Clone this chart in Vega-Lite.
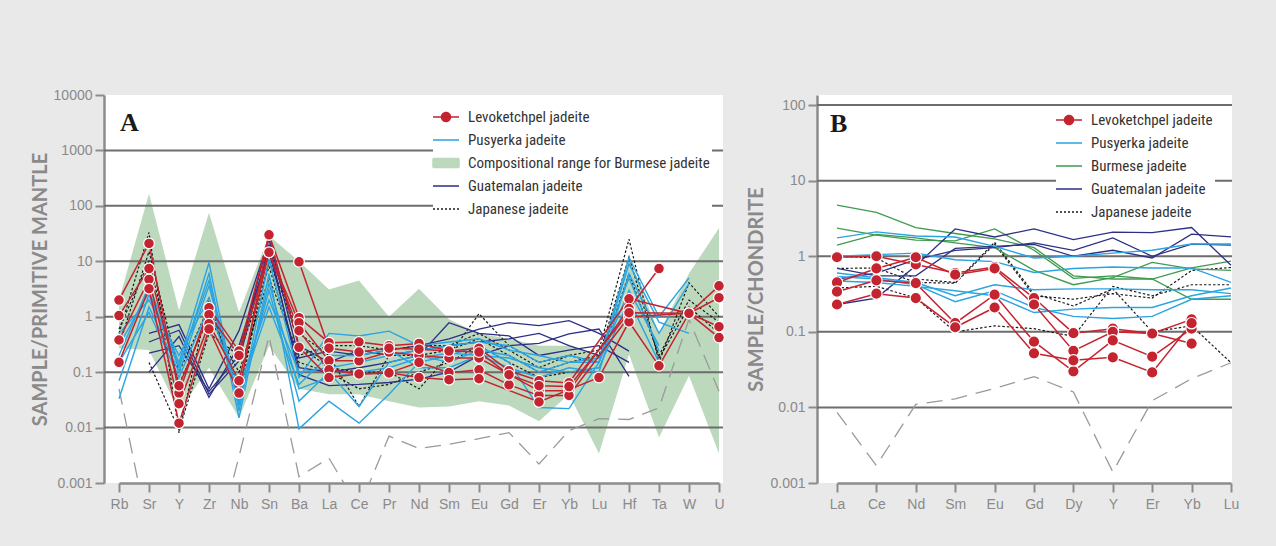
{
  "$schema": "https://vega.github.io/schema/vega-lite/v6.json",
  "background": "#e9e9e9",
  "padding": {"left": 30, "top": 88, "right": 40, "bottom": 40},
  "config": {
    "view": {"fill": "white", "stroke": null},
    "axis": {"domainColor": "#8c8c8c", "domainWidth": 2.5, "tickColor": "#8c8c8c", "tickWidth": 2, "tickSize": 9, "labelColor": "#8a8a8a", "labelFont": "Liberation Sans", "labelFontSize": 14, "labelPadding": 3, "titleColor": "#8a8a8a", "titleFont": "Lato", "titleFontSize": 20, "titleFontWeight": "bold", "grid": false, "titlePadding": 3}
  },
  "datasets": {
    "bandA": [
      {"e": "Rb", "lo": 0.27, "hi": 2.0}, {"e": "Sr", "lo": 0.25, "hi": 166}, {"e": "Y", "lo": 0.02, "hi": 1.3}, {"e": "Zr", "lo": 0.12, "hi": 75}, {"e": "Nb", "lo": 0.015, "hi": 1.2}, {"e": "Sn", "lo": 0.3, "hi": 29}, {"e": "Ba", "lo": 0.05, "hi": 10}, {"e": "La", "lo": 0.04, "hi": 3.1}, {"e": "Ce", "lo": 0.04, "hi": 4.5}, {"e": "Pr", "lo": 0.03, "hi": 1.0}, {"e": "Nd", "lo": 0.023, "hi": 3.2}, {"e": "Sm", "lo": 0.024, "hi": 0.9}, {"e": "Eu", "lo": 0.03, "hi": 0.5}, {"e": "Gd", "lo": 0.025, "hi": 0.4}, {"e": "Er", "lo": 0.013, "hi": 0.3}, {"e": "Yb", "lo": 0.04, "hi": 0.3}, {"e": "Lu", "lo": 0.0034, "hi": 0.2}, {"e": "Hf", "lo": 0.21, "hi": 12}, {"e": "Ta", "lo": 0.0066, "hi": 0.5}, {"e": "W", "lo": 0.086, "hi": 6}, {"e": "U", "lo": 0.0034, "hi": 40}
    ],
    "gridA": [{"v": 0.01}, {"v": 0.1}, {"v": 1}, {"v": 10}, {"v": 100}, {"v": 1000}],
    "gridB": [{"v": 0.01}, {"v": 0.1}, {"v": 1}, {"v": 10}, {"v": 100}],
    "legA": [{"g": "Levoketchpel jadeite"}, {"g": "Pusyerka jadeite"}, {"g": "Compositional range for Burmese jadeite"}, {"g": "Guatemalan jadeite"}, {"g": "Japanese jadeite"}],
    "legB": [{"g": "Levoketchpel jadeite"}, {"g": "Pusyerka jadeite"}, {"g": "Burmese jadeite"}, {"g": "Guatemalan jadeite"}, {"g": "Japanese jadeite"}],
    "a": [
      {"s": "L1", "g": "L", "e": "Rb", "v": 2.0}, {"s": "L1", "g": "L", "e": "Sr", "v": 21}, {"s": "L1", "g": "L", "e": "Y", "v": 0.042}, {"s": "L1", "g": "L", "e": "Zr", "v": 1.45}, {"s": "L1", "g": "L", "e": "Nb", "v": 0.24}, {"s": "L1", "g": "L", "e": "Sn", "v": 30}, {"s": "L1", "g": "L", "e": "Ba", "v": 0.96}, {"s": "L1", "g": "L", "e": "La", "v": 0.34}, {"s": "L1", "g": "L", "e": "Ce", "v": 0.35}, {"s": "L1", "g": "L", "e": "Pr", "v": 0.3}, {"s": "L1", "g": "L", "e": "Nd", "v": 0.33}, {"s": "L1", "g": "L", "e": "Sm", "v": 0.24}, {"s": "L1", "g": "L", "e": "Eu", "v": 0.27}, {"s": "L1", "g": "L", "e": "Gd", "v": 0.106}, {"s": "L1", "g": "L", "e": "Er", "v": 0.07}, {"s": "L1", "g": "L", "e": "Yb", "v": 0.064}, {"s": "L1", "g": "L", "e": "Hf", "v": 2.1}, {"s": "L1", "g": "L", "e": "W", "v": 1.15}, {"s": "L1", "g": "L", "e": "U", "v": 2.2},
      {"s": "L2", "g": "L", "e": "Rb", "v": 1.05}, {"s": "L2", "g": "L", "e": "Sr", "v": 7.4}, {"s": "L2", "g": "L", "e": "Y", "v": 0.057}, {"s": "L2", "g": "L", "e": "Zr", "v": 1.09}, {"s": "L2", "g": "L", "e": "Nb", "v": 0.2}, {"s": "L2", "g": "L", "e": "Sn", "v": 14.5}, {"s": "L2", "g": "L", "e": "Ba", "v": 0.78}, {"s": "L2", "g": "L", "e": "La", "v": 0.16}, {"s": "L2", "g": "L", "e": "Ce", "v": 0.16}, {"s": "L2", "g": "L", "e": "Pr", "v": 0.23}, {"s": "L2", "g": "L", "e": "Nd", "v": 0.2}, {"s": "L2", "g": "L", "e": "Sm", "v": 0.18}, {"s": "L2", "g": "L", "e": "Eu", "v": 0.18}, {"s": "L2", "g": "L", "e": "Er", "v": 0.046}, {"s": "L2", "g": "L", "e": "Yb", "v": 0.046}, {"s": "L2", "g": "L", "e": "Hf", "v": 1.4}, {"s": "L2", "g": "L", "e": "Ta", "v": 7.4},
      {"s": "L3", "g": "L", "e": "Rb", "v": 0.38}, {"s": "L3", "g": "L", "e": "Sr", "v": 4.7}, {"s": "L3", "g": "L", "e": "Y", "v": 0.027}, {"s": "L3", "g": "L", "e": "Zr", "v": 0.75}, {"s": "L3", "g": "L", "e": "Nb", "v": 0.07}, {"s": "L3", "g": "L", "e": "Sn", "v": 14.5}, {"s": "L3", "g": "L", "e": "Ba", "v": 0.56}, {"s": "L3", "g": "L", "e": "La", "v": 0.11}, {"s": "L3", "g": "L", "e": "Ce", "v": 0.093}, {"s": "L3", "g": "L", "e": "Pr", "v": 0.097}, {"s": "L3", "g": "L", "e": "Nd", "v": 0.15}, {"s": "L3", "g": "L", "e": "Sm", "v": 0.098}, {"s": "L3", "g": "L", "e": "Eu", "v": 0.11}, {"s": "L3", "g": "L", "e": "Gd", "v": 0.059}, {"s": "L3", "g": "L", "e": "Er", "v": 0.038}, {"s": "L3", "g": "L", "e": "Yb", "v": 0.038}, {"s": "L3", "g": "L", "e": "Hf", "v": 1.0}, {"s": "L3", "g": "L", "e": "W", "v": 1.15}, {"s": "L3", "g": "L", "e": "U", "v": 0.42},
      {"s": "L4", "g": "L", "e": "Rb", "v": 0.15}, {"s": "L4", "g": "L", "e": "Sr", "v": 3.2}, {"s": "L4", "g": "L", "e": "Y", "v": 0.012}, {"s": "L4", "g": "L", "e": "Zr", "v": 0.6}, {"s": "L4", "g": "L", "e": "Nb", "v": 0.042}, {"s": "L4", "g": "L", "e": "Sn", "v": 30}, {"s": "L4", "g": "L", "e": "Ba", "v": 0.28}, {"s": "L4", "g": "L", "e": "La", "v": 0.08}, {"s": "L4", "g": "L", "e": "Ce", "v": 0.093}, {"s": "L4", "g": "L", "e": "Pr", "v": 0.097}, {"s": "L4", "g": "L", "e": "Nd", "v": 0.08}, {"s": "L4", "g": "L", "e": "Sm", "v": 0.073}, {"s": "L4", "g": "L", "e": "Eu", "v": 0.076}, {"s": "L4", "g": "L", "e": "Er", "v": 0.029}, {"s": "L4", "g": "L", "e": "Lu", "v": 0.08}, {"s": "L4", "g": "L", "e": "Hf", "v": 0.81}, {"s": "L4", "g": "L", "e": "Ta", "v": 0.13}, {"s": "L4", "g": "L", "e": "W", "v": 1.15}, {"s": "L4", "g": "L", "e": "U", "v": 3.6},
      {"s": "L5", "g": "L", "e": "Ba", "v": 9.8}, {"s": "L5", "g": "L", "e": "La", "v": 0.27}, {"s": "L5", "g": "L", "e": "Ce", "v": 0.23}, {"s": "L5", "g": "L", "e": "Pr", "v": 0.27}, {"s": "L5", "g": "L", "e": "Nd", "v": 0.26}, {"s": "L5", "g": "L", "e": "Sm", "v": 0.24}, {"s": "L5", "g": "L", "e": "Eu", "v": 0.23}, {"s": "L5", "g": "L", "e": "Gd", "v": 0.09}, {"s": "L5", "g": "L", "e": "Er", "v": 0.057}, {"s": "L5", "g": "L", "e": "Yb", "v": 0.055}, {"s": "L5", "g": "L", "e": "Hf", "v": 1.18}, {"s": "L5", "g": "L", "e": "W", "v": 1.15}, {"s": "L5", "g": "L", "e": "U", "v": 0.66},
      {"s": "P1", "g": "P", "e": "Rb", "v": 0.2}, {"s": "P1", "g": "P", "e": "Sr", "v": 3.6}, {"s": "P1", "g": "P", "e": "Y", "v": 0.15}, {"s": "P1", "g": "P", "e": "Zr", "v": 9.5}, {"s": "P1", "g": "P", "e": "Nb", "v": 0.02}, {"s": "P1", "g": "P", "e": "Sn", "v": 11}, {"s": "P1", "g": "P", "e": "Ba", "v": 0.08}, {"s": "P1", "g": "P", "e": "La", "v": 0.5}, {"s": "P1", "g": "P", "e": "Ce", "v": 0.45}, {"s": "P1", "g": "P", "e": "Pr", "v": 0.55}, {"s": "P1", "g": "P", "e": "Nd", "v": 0.3}, {"s": "P1", "g": "P", "e": "Sm", "v": 0.35}, {"s": "P1", "g": "P", "e": "Eu", "v": 0.4}, {"s": "P1", "g": "P", "e": "Gd", "v": 0.25}, {"s": "P1", "g": "P", "e": "Er", "v": 0.2}, {"s": "P1", "g": "P", "e": "Yb", "v": 0.15}, {"s": "P1", "g": "P", "e": "Lu", "v": 0.15}, {"s": "P1", "g": "P", "e": "Hf", "v": 11.6}, {"s": "P1", "g": "P", "e": "Ta", "v": 1.0}, {"s": "P1", "g": "P", "e": "W", "v": 5},
      {"s": "P2", "g": "P", "e": "Rb", "v": 0.07}, {"s": "P2", "g": "P", "e": "Sr", "v": 2.5}, {"s": "P2", "g": "P", "e": "Y", "v": 0.12}, {"s": "P2", "g": "P", "e": "Zr", "v": 6}, {"s": "P2", "g": "P", "e": "Nb", "v": 0.015}, {"s": "P2", "g": "P", "e": "Sn", "v": 6}, {"s": "P2", "g": "P", "e": "Ba", "v": 0.0095}, {"s": "P2", "g": "P", "e": "La", "v": 0.03}, {"s": "P2", "g": "P", "e": "Ce", "v": 0.012}, {"s": "P2", "g": "P", "e": "Pr", "v": 0.04}, {"s": "P2", "g": "P", "e": "Nd", "v": 0.15}, {"s": "P2", "g": "P", "e": "Sm", "v": 0.2}, {"s": "P2", "g": "P", "e": "Eu", "v": 0.3}, {"s": "P2", "g": "P", "e": "Gd", "v": 0.15}, {"s": "P2", "g": "P", "e": "Er", "v": 0.023}, {"s": "P2", "g": "P", "e": "Yb", "v": 0.022}, {"s": "P2", "g": "P", "e": "Lu", "v": 0.15}, {"s": "P2", "g": "P", "e": "Hf", "v": 9}, {"s": "P2", "g": "P", "e": "Ta", "v": 0.8}, {"s": "P2", "g": "P", "e": "W", "v": 0.5},
      {"s": "P3", "g": "P", "e": "Rb", "v": 0.033}, {"s": "P3", "g": "P", "e": "Sr", "v": 1.5}, {"s": "P3", "g": "P", "e": "Y", "v": 0.1}, {"s": "P3", "g": "P", "e": "Zr", "v": 3.6}, {"s": "P3", "g": "P", "e": "Nb", "v": 0.03}, {"s": "P3", "g": "P", "e": "Sn", "v": 3}, {"s": "P3", "g": "P", "e": "Ba", "v": 0.03}, {"s": "P3", "g": "P", "e": "La", "v": 0.1}, {"s": "P3", "g": "P", "e": "Ce", "v": 0.024}, {"s": "P3", "g": "P", "e": "Pr", "v": 0.15}, {"s": "P3", "g": "P", "e": "Nd", "v": 0.2}, {"s": "P3", "g": "P", "e": "Sm", "v": 0.15}, {"s": "P3", "g": "P", "e": "Eu", "v": 0.25}, {"s": "P3", "g": "P", "e": "Gd", "v": 0.2}, {"s": "P3", "g": "P", "e": "Er", "v": 0.1}, {"s": "P3", "g": "P", "e": "Yb", "v": 0.15}, {"s": "P3", "g": "P", "e": "Lu", "v": 0.18}, {"s": "P3", "g": "P", "e": "Hf", "v": 5}, {"s": "P3", "g": "P", "e": "Ta", "v": 0.24},
      {"s": "P4", "g": "P", "e": "Rb", "v": 0.5}, {"s": "P4", "g": "P", "e": "Sr", "v": 2}, {"s": "P4", "g": "P", "e": "Y", "v": 0.2}, {"s": "P4", "g": "P", "e": "Zr", "v": 2.2}, {"s": "P4", "g": "P", "e": "Nb", "v": 0.05}, {"s": "P4", "g": "P", "e": "Sn", "v": 2}, {"s": "P4", "g": "P", "e": "Ba", "v": 0.1}, {"s": "P4", "g": "P", "e": "La", "v": 0.12}, {"s": "P4", "g": "P", "e": "Ce", "v": 0.15}, {"s": "P4", "g": "P", "e": "Pr", "v": 0.2}, {"s": "P4", "g": "P", "e": "Nd", "v": 0.25}, {"s": "P4", "g": "P", "e": "Sm", "v": 0.3}, {"s": "P4", "g": "P", "e": "Eu", "v": 0.35}, {"s": "P4", "g": "P", "e": "Gd", "v": 0.3}, {"s": "P4", "g": "P", "e": "Er", "v": 0.15}, {"s": "P4", "g": "P", "e": "Yb", "v": 0.2}, {"s": "P4", "g": "P", "e": "Lu", "v": 0.15}, {"s": "P4", "g": "P", "e": "Hf", "v": 3}, {"s": "P4", "g": "P", "e": "Ta", "v": 0.3},
      {"s": "P5", "g": "P", "e": "Rb", "v": 0.15}, {"s": "P5", "g": "P", "e": "Sr", "v": 1.2}, {"s": "P5", "g": "P", "e": "Y", "v": 0.08}, {"s": "P5", "g": "P", "e": "Zr", "v": 1.5}, {"s": "P5", "g": "P", "e": "Nb", "v": 0.04}, {"s": "P5", "g": "P", "e": "Sn", "v": 1.5}, {"s": "P5", "g": "P", "e": "Ba", "v": 0.06}, {"s": "P5", "g": "P", "e": "La", "v": 0.2}, {"s": "P5", "g": "P", "e": "Ce", "v": 0.2}, {"s": "P5", "g": "P", "e": "Pr", "v": 0.25}, {"s": "P5", "g": "P", "e": "Nd", "v": 0.12}, {"s": "P5", "g": "P", "e": "Sm", "v": 0.12}, {"s": "P5", "g": "P", "e": "Eu", "v": 0.2}, {"s": "P5", "g": "P", "e": "Gd", "v": 0.18}, {"s": "P5", "g": "P", "e": "Er", "v": 0.12}, {"s": "P5", "g": "P", "e": "Yb", "v": 0.1}, {"s": "P5", "g": "P", "e": "Lu", "v": 0.12}, {"s": "P5", "g": "P", "e": "Hf", "v": 2}, {"s": "P5", "g": "P", "e": "Ta", "v": 0.15},
      {"s": "P6", "g": "P", "e": "Rb", "v": 0.3}, {"s": "P6", "g": "P", "e": "Sr", "v": 2.8}, {"s": "P6", "g": "P", "e": "Y", "v": 0.13}, {"s": "P6", "g": "P", "e": "Zr", "v": 4.5}, {"s": "P6", "g": "P", "e": "Nb", "v": 0.025}, {"s": "P6", "g": "P", "e": "Sn", "v": 4}, {"s": "P6", "g": "P", "e": "Ba", "v": 0.05}, {"s": "P6", "g": "P", "e": "La", "v": 0.08}, {"s": "P6", "g": "P", "e": "Ce", "v": 0.1}, {"s": "P6", "g": "P", "e": "Pr", "v": 0.12}, {"s": "P6", "g": "P", "e": "Nd", "v": 0.18}, {"s": "P6", "g": "P", "e": "Sm", "v": 0.22}, {"s": "P6", "g": "P", "e": "Eu", "v": 0.2}, {"s": "P6", "g": "P", "e": "Gd", "v": 0.12}, {"s": "P6", "g": "P", "e": "Er", "v": 0.08}, {"s": "P6", "g": "P", "e": "Yb", "v": 0.12}, {"s": "P6", "g": "P", "e": "Lu", "v": 0.1}, {"s": "P6", "g": "P", "e": "Hf", "v": 6}, {"s": "P6", "g": "P", "e": "Ta", "v": 0.5}, {"s": "P6", "g": "P", "e": "W", "v": 4},
      {"s": "G1", "g": "G", "e": "Sr", "v": 0.5}, {"s": "G1", "g": "G", "e": "Y", "v": 0.72}, {"s": "G1", "g": "G", "e": "Zr", "v": 0.05}, {"s": "G1", "g": "G", "e": "Nb", "v": 0.56}, {"s": "G1", "g": "G", "e": "Sn", "v": 25}, {"s": "G1", "g": "G", "e": "Ba", "v": 0.18}, {"s": "G1", "g": "G", "e": "La", "v": 0.24}, {"s": "G1", "g": "G", "e": "Ce", "v": 0.2}, {"s": "G1", "g": "G", "e": "Pr", "v": 0.25}, {"s": "G1", "g": "G", "e": "Nd", "v": 0.3}, {"s": "G1", "g": "G", "e": "Sm", "v": 0.4}, {"s": "G1", "g": "G", "e": "Eu", "v": 0.6}, {"s": "G1", "g": "G", "e": "Gd", "v": 0.78}, {"s": "G1", "g": "G", "e": "Er", "v": 0.69}, {"s": "G1", "g": "G", "e": "Yb", "v": 0.85}, {"s": "G1", "g": "G", "e": "Lu", "v": 0.5}, {"s": "G1", "g": "G", "e": "Hf", "v": 0.24},
      {"s": "G2", "g": "G", "e": "Sr", "v": 0.35}, {"s": "G2", "g": "G", "e": "Y", "v": 0.57}, {"s": "G2", "g": "G", "e": "Zr", "v": 0.04}, {"s": "G2", "g": "G", "e": "Nb", "v": 0.16}, {"s": "G2", "g": "G", "e": "Sn", "v": 20}, {"s": "G2", "g": "G", "e": "Ba", "v": 0.09}, {"s": "G2", "g": "G", "e": "La", "v": 0.057}, {"s": "G2", "g": "G", "e": "Ce", "v": 0.06}, {"s": "G2", "g": "G", "e": "Pr", "v": 0.065}, {"s": "G2", "g": "G", "e": "Nd", "v": 0.075}, {"s": "G2", "g": "G", "e": "Sm", "v": 0.1}, {"s": "G2", "g": "G", "e": "Eu", "v": 0.2}, {"s": "G2", "g": "G", "e": "Gd", "v": 0.3}, {"s": "G2", "g": "G", "e": "Er", "v": 0.33}, {"s": "G2", "g": "G", "e": "Yb", "v": 0.49}, {"s": "G2", "g": "G", "e": "Lu", "v": 0.6}, {"s": "G2", "g": "G", "e": "Hf", "v": 0.084},
      {"s": "G3", "g": "G", "e": "Sr", "v": 0.1}, {"s": "G3", "g": "G", "e": "Y", "v": 0.44}, {"s": "G3", "g": "G", "e": "Zr", "v": 0.035}, {"s": "G3", "g": "G", "e": "Nb", "v": 0.3}, {"s": "G3", "g": "G", "e": "Sn", "v": 15}, {"s": "G3", "g": "G", "e": "Ba", "v": 0.12}, {"s": "G3", "g": "G", "e": "La", "v": 0.1}, {"s": "G3", "g": "G", "e": "Ce", "v": 0.12}, {"s": "G3", "g": "G", "e": "Pr", "v": 0.15}, {"s": "G3", "g": "G", "e": "Nd", "v": 0.2}, {"s": "G3", "g": "G", "e": "Sm", "v": 0.78}, {"s": "G3", "g": "G", "e": "Eu", "v": 0.5}, {"s": "G3", "g": "G", "e": "Gd", "v": 0.45}, {"s": "G3", "g": "G", "e": "Er", "v": 0.2}, {"s": "G3", "g": "G", "e": "Yb", "v": 0.25}, {"s": "G3", "g": "G", "e": "Lu", "v": 0.3}, {"s": "G3", "g": "G", "e": "Hf", "v": 0.15},
      {"s": "G4", "g": "G", "e": "Sr", "v": 0.22}, {"s": "G4", "g": "G", "e": "Y", "v": 0.3}, {"s": "G4", "g": "G", "e": "Zr", "v": 0.045}, {"s": "G4", "g": "G", "e": "Nb", "v": 0.2}, {"s": "G4", "g": "G", "e": "Sn", "v": 28}, {"s": "G4", "g": "G", "e": "Ba", "v": 0.3}, {"s": "G4", "g": "G", "e": "La", "v": 0.15}, {"s": "G4", "g": "G", "e": "Ce", "v": 0.25}, {"s": "G4", "g": "G", "e": "Pr", "v": 0.2}, {"s": "G4", "g": "G", "e": "Nd", "v": 0.25}, {"s": "G4", "g": "G", "e": "Sm", "v": 0.3}, {"s": "G4", "g": "G", "e": "Eu", "v": 0.35}, {"s": "G4", "g": "G", "e": "Gd", "v": 0.4}, {"s": "G4", "g": "G", "e": "Er", "v": 0.5}, {"s": "G4", "g": "G", "e": "Yb", "v": 0.3}, {"s": "G4", "g": "G", "e": "Lu", "v": 0.2},
      {"s": "J1", "g": "J", "e": "Rb", "v": 0.5}, {"s": "J1", "g": "J", "e": "Sr", "v": 33}, {"s": "J1", "g": "J", "e": "Y", "v": 0.008}, {"s": "J1", "g": "J", "e": "Zr", "v": 2.2}, {"s": "J1", "g": "J", "e": "Nb", "v": 0.03}, {"s": "J1", "g": "J", "e": "Sn", "v": 20}, {"s": "J1", "g": "J", "e": "Ba", "v": 0.3}, {"s": "J1", "g": "J", "e": "La", "v": 0.12}, {"s": "J1", "g": "J", "e": "Ce", "v": 0.1}, {"s": "J1", "g": "J", "e": "Pr", "v": 0.1}, {"s": "J1", "g": "J", "e": "Nd", "v": 0.05}, {"s": "J1", "g": "J", "e": "Sm", "v": 0.2}, {"s": "J1", "g": "J", "e": "Eu", "v": 1.13}, {"s": "J1", "g": "J", "e": "Gd", "v": 0.3}, {"s": "J1", "g": "J", "e": "Er", "v": 0.15}, {"s": "J1", "g": "J", "e": "Yb", "v": 0.2}, {"s": "J1", "g": "J", "e": "Lu", "v": 0.25}, {"s": "J1", "g": "J", "e": "Hf", "v": 25}, {"s": "J1", "g": "J", "e": "Ta", "v": 0.15}, {"s": "J1", "g": "J", "e": "W", "v": 4.1}, {"s": "J1", "g": "J", "e": "U", "v": 1.0},
      {"s": "J2", "g": "J", "e": "Rb", "v": 0.3}, {"s": "J2", "g": "J", "e": "Sr", "v": 15}, {"s": "J2", "g": "J", "e": "Y", "v": 0.1}, {"s": "J2", "g": "J", "e": "Zr", "v": 1.5}, {"s": "J2", "g": "J", "e": "Nb", "v": 0.05}, {"s": "J2", "g": "J", "e": "Sn", "v": 10}, {"s": "J2", "g": "J", "e": "Ba", "v": 0.5}, {"s": "J2", "g": "J", "e": "La", "v": 0.2}, {"s": "J2", "g": "J", "e": "Ce", "v": 0.024}, {"s": "J2", "g": "J", "e": "Pr", "v": 0.2}, {"s": "J2", "g": "J", "e": "Nd", "v": 0.2}, {"s": "J2", "g": "J", "e": "Sm", "v": 0.25}, {"s": "J2", "g": "J", "e": "Eu", "v": 0.4}, {"s": "J2", "g": "J", "e": "Gd", "v": 0.2}, {"s": "J2", "g": "J", "e": "Er", "v": 0.1}, {"s": "J2", "g": "J", "e": "Yb", "v": 0.15}, {"s": "J2", "g": "J", "e": "Lu", "v": 0.2}, {"s": "J2", "g": "J", "e": "Hf", "v": 12}, {"s": "J2", "g": "J", "e": "Ta", "v": 0.18}, {"s": "J2", "g": "J", "e": "W", "v": 1.5}, {"s": "J2", "g": "J", "e": "U", "v": 0.5},
      {"s": "J3", "g": "J", "e": "Rb", "v": 0.6}, {"s": "J3", "g": "J", "e": "Sr", "v": 10}, {"s": "J3", "g": "J", "e": "Y", "v": 0.06}, {"s": "J3", "g": "J", "e": "Zr", "v": 1.0}, {"s": "J3", "g": "J", "e": "Nb", "v": 0.1}, {"s": "J3", "g": "J", "e": "Sn", "v": 5}, {"s": "J3", "g": "J", "e": "Ba", "v": 0.2}, {"s": "J3", "g": "J", "e": "La", "v": 0.3}, {"s": "J3", "g": "J", "e": "Ce", "v": 0.3}, {"s": "J3", "g": "J", "e": "Pr", "v": 0.25}, {"s": "J3", "g": "J", "e": "Nd", "v": 0.3}, {"s": "J3", "g": "J", "e": "Sm", "v": 0.3}, {"s": "J3", "g": "J", "e": "Eu", "v": 0.5}, {"s": "J3", "g": "J", "e": "Gd", "v": 0.25}, {"s": "J3", "g": "J", "e": "Er", "v": 0.12}, {"s": "J3", "g": "J", "e": "Yb", "v": 0.2}, {"s": "J3", "g": "J", "e": "Lu", "v": 0.15}, {"s": "J3", "g": "J", "e": "Hf", "v": 6}, {"s": "J3", "g": "J", "e": "Ta", "v": 0.2}, {"s": "J3", "g": "J", "e": "W", "v": 2}, {"s": "J3", "g": "J", "e": "U", "v": 0.8},
      {"s": "J4", "g": "J", "e": "Sr", "v": 0.15}, {"s": "J4", "g": "J", "e": "Y", "v": 0.009}, {"s": "J4", "g": "J", "e": "Zr", "v": 0.5}, {"s": "J4", "g": "J", "e": "Nb", "v": 0.2}, {"s": "J4", "g": "J", "e": "Sn", "v": 8}, {"s": "J4", "g": "J", "e": "Ba", "v": 0.15}, {"s": "J4", "g": "J", "e": "La", "v": 0.1}, {"s": "J4", "g": "J", "e": "Ce", "v": 0.05}, {"s": "J4", "g": "J", "e": "Pr", "v": 0.06}, {"s": "J4", "g": "J", "e": "Nd", "v": 0.1}, {"s": "J4", "g": "J", "e": "Sm", "v": 0.15}, {"s": "J4", "g": "J", "e": "Eu", "v": 0.3}, {"s": "J4", "g": "J", "e": "Gd", "v": 0.15}, {"s": "J4", "g": "J", "e": "Er", "v": 0.08}, {"s": "J4", "g": "J", "e": "Yb", "v": 0.1}, {"s": "J4", "g": "J", "e": "Lu", "v": 0.12},
      {"s": "R", "g": "R", "e": "Rb", "v": 0.05}, {"s": "R", "g": "R", "e": "Sr", "v": 0.00012}, {"s": "R", "g": "R", "e": "Y", "v": 0.00001}, {"s": "R", "g": "R", "e": "Zr", "v": 0.000025}, {"s": "R", "g": "R", "e": "Nb", "v": 0.003}, {"s": "R", "g": "R", "e": "Sn", "v": 0.45}, {"s": "R", "g": "R", "e": "Ba", "v": 0.0013}, {"s": "R", "g": "R", "e": "La", "v": 0.0028}, {"s": "R", "g": "R", "e": "Ce", "v": 0.00035}, {"s": "R", "g": "R", "e": "Pr", "v": 0.007}, {"s": "R", "g": "R", "e": "Nd", "v": 0.0042}, {"s": "R", "g": "R", "e": "Sm", "v": 0.005}, {"s": "R", "g": "R", "e": "Eu", "v": 0.0063}, {"s": "R", "g": "R", "e": "Gd", "v": 0.0081}, {"s": "R", "g": "R", "e": "Er", "v": 0.0022}, {"s": "R", "g": "R", "e": "Yb", "v": 0.0088}, {"s": "R", "g": "R", "e": "Lu", "v": 0.0145}, {"s": "R", "g": "R", "e": "Hf", "v": 0.014}, {"s": "R", "g": "R", "e": "Ta", "v": 0.0227}, {"s": "R", "g": "R", "e": "W", "v": 0.9}, {"s": "R", "g": "R", "e": "U", "v": 0.045}
    ],
    "b": [
      {"s": "R1", "g": "L", "e": "La", "v": 0.97}, {"s": "R1", "g": "L", "e": "Ce", "v": 1.0}, {"s": "R1", "g": "L", "e": "Nd", "v": 0.78}, {"s": "R1", "g": "L", "e": "Sm", "v": 0.6}, {"s": "R1", "g": "L", "e": "Eu", "v": 0.72}, {"s": "R1", "g": "L", "e": "Gd", "v": 0.28}, {"s": "R1", "g": "L", "e": "Dy", "v": 0.096}, {"s": "R1", "g": "L", "e": "Y", "v": 0.11}, {"s": "R1", "g": "L", "e": "Er", "v": 0.095}, {"s": "R1", "g": "L", "e": "Yb", "v": 0.07},
      {"s": "R2", "g": "L", "e": "La", "v": 0.45}, {"s": "R2", "g": "L", "e": "Ce", "v": 0.69}, {"s": "R2", "g": "L", "e": "Nd", "v": 0.97}, {"s": "R2", "g": "L", "e": "Sm", "v": 0.57}, {"s": "R2", "g": "L", "e": "Eu", "v": 0.69}, {"s": "R2", "g": "L", "e": "Gd", "v": 0.23}, {"s": "R2", "g": "L", "e": "Dy", "v": 0.056}, {"s": "R2", "g": "L", "e": "Y", "v": 0.1}, {"s": "R2", "g": "L", "e": "Er", "v": 0.095}, {"s": "R2", "g": "L", "e": "Yb", "v": 0.146},
      {"s": "R3", "g": "L", "e": "La", "v": 0.34}, {"s": "R3", "g": "L", "e": "Ce", "v": 0.48}, {"s": "R3", "g": "L", "e": "Nd", "v": 0.44}, {"s": "R3", "g": "L", "e": "Sm", "v": 0.13}, {"s": "R3", "g": "L", "e": "Eu", "v": 0.31}, {"s": "R3", "g": "L", "e": "Gd", "v": 0.074}, {"s": "R3", "g": "L", "e": "Dy", "v": 0.03}, {"s": "R3", "g": "L", "e": "Y", "v": 0.077}, {"s": "R3", "g": "L", "e": "Er", "v": 0.047}, {"s": "R3", "g": "L", "e": "Yb", "v": 0.11},
      {"s": "R4", "g": "L", "e": "La", "v": 0.23}, {"s": "R4", "g": "L", "e": "Ce", "v": 0.32}, {"s": "R4", "g": "L", "e": "Nd", "v": 0.28}, {"s": "R4", "g": "L", "e": "Sm", "v": 0.115}, {"s": "R4", "g": "L", "e": "Eu", "v": 0.21}, {"s": "R4", "g": "L", "e": "Gd", "v": 0.052}, {"s": "R4", "g": "L", "e": "Dy", "v": 0.042}, {"s": "R4", "g": "L", "e": "Y", "v": 0.046}, {"s": "R4", "g": "L", "e": "Er", "v": 0.029}, {"s": "R4", "g": "L", "e": "Yb", "v": 0.13},
      {"s": "B1", "g": "P", "e": "La", "v": 1.75}, {"s": "B1", "g": "P", "e": "Ce", "v": 2.1}, {"s": "B1", "g": "P", "e": "Nd", "v": 1.85}, {"s": "B1", "g": "P", "e": "Sm", "v": 1.8}, {"s": "B1", "g": "P", "e": "Eu", "v": 1.35}, {"s": "B1", "g": "P", "e": "Gd", "v": 0.95}, {"s": "B1", "g": "P", "e": "Dy", "v": 1.0}, {"s": "B1", "g": "P", "e": "Y", "v": 1.1}, {"s": "B1", "g": "P", "e": "Er", "v": 1.2}, {"s": "B1", "g": "P", "e": "Yb", "v": 1.45}, {"s": "B1", "g": "P", "e": "Lu", "v": 1.45},
      {"s": "B2", "g": "P", "e": "La", "v": 1.0}, {"s": "B2", "g": "P", "e": "Ce", "v": 1.05}, {"s": "B2", "g": "P", "e": "Nd", "v": 1.1}, {"s": "B2", "g": "P", "e": "Sm", "v": 0.9}, {"s": "B2", "g": "P", "e": "Eu", "v": 0.85}, {"s": "B2", "g": "P", "e": "Gd", "v": 0.61}, {"s": "B2", "g": "P", "e": "Dy", "v": 0.69}, {"s": "B2", "g": "P", "e": "Y", "v": 0.72}, {"s": "B2", "g": "P", "e": "Er", "v": 0.7}, {"s": "B2", "g": "P", "e": "Yb", "v": 0.7}, {"s": "B2", "g": "P", "e": "Lu", "v": 0.45},
      {"s": "B3", "g": "P", "e": "La", "v": 0.54}, {"s": "B3", "g": "P", "e": "Ce", "v": 0.5}, {"s": "B3", "g": "P", "e": "Nd", "v": 0.42}, {"s": "B3", "g": "P", "e": "Sm", "v": 0.25}, {"s": "B3", "g": "P", "e": "Eu", "v": 0.35}, {"s": "B3", "g": "P", "e": "Gd", "v": 0.21}, {"s": "B3", "g": "P", "e": "Dy", "v": 0.16}, {"s": "B3", "g": "P", "e": "Y", "v": 0.15}, {"s": "B3", "g": "P", "e": "Er", "v": 0.16}, {"s": "B3", "g": "P", "e": "Yb", "v": 0.27}, {"s": "B3", "g": "P", "e": "Lu", "v": 0.3},
      {"s": "B4", "g": "P", "e": "La", "v": 0.47}, {"s": "B4", "g": "P", "e": "Ce", "v": 0.45}, {"s": "B4", "g": "P", "e": "Nd", "v": 0.4}, {"s": "B4", "g": "P", "e": "Sm", "v": 0.35}, {"s": "B4", "g": "P", "e": "Eu", "v": 0.3}, {"s": "B4", "g": "P", "e": "Gd", "v": 0.18}, {"s": "B4", "g": "P", "e": "Dy", "v": 0.2}, {"s": "B4", "g": "P", "e": "Y", "v": 0.21}, {"s": "B4", "g": "P", "e": "Er", "v": 0.21}, {"s": "B4", "g": "P", "e": "Yb", "v": 0.3}, {"s": "B4", "g": "P", "e": "Lu", "v": 0.38},
      {"s": "B5", "g": "P", "e": "La", "v": 0.6}, {"s": "B5", "g": "P", "e": "Ce", "v": 0.52}, {"s": "B5", "g": "P", "e": "Nd", "v": 0.45}, {"s": "B5", "g": "P", "e": "Sm", "v": 0.3}, {"s": "B5", "g": "P", "e": "Eu", "v": 0.42}, {"s": "B5", "g": "P", "e": "Gd", "v": 0.36}, {"s": "B5", "g": "P", "e": "Dy", "v": 0.37}, {"s": "B5", "g": "P", "e": "Y", "v": 0.37}, {"s": "B5", "g": "P", "e": "Er", "v": 0.36}, {"s": "B5", "g": "P", "e": "Yb", "v": 0.36}, {"s": "B5", "g": "P", "e": "Lu", "v": 0.32},
      {"s": "M1", "g": "M", "e": "La", "v": 4.75}, {"s": "M1", "g": "M", "e": "Ce", "v": 3.8}, {"s": "M1", "g": "M", "e": "Nd", "v": 2.4}, {"s": "M1", "g": "M", "e": "Sm", "v": 2.0}, {"s": "M1", "g": "M", "e": "Eu", "v": 1.7}, {"s": "M1", "g": "M", "e": "Gd", "v": 1.3}, {"s": "M1", "g": "M", "e": "Dy", "v": 0.55}, {"s": "M1", "g": "M", "e": "Y", "v": 0.5}, {"s": "M1", "g": "M", "e": "Er", "v": 0.5}, {"s": "M1", "g": "M", "e": "Yb", "v": 0.27}, {"s": "M1", "g": "M", "e": "Lu", "v": 0.27},
      {"s": "M2", "g": "M", "e": "La", "v": 2.35}, {"s": "M2", "g": "M", "e": "Ce", "v": 1.9}, {"s": "M2", "g": "M", "e": "Nd", "v": 1.63}, {"s": "M2", "g": "M", "e": "Sm", "v": 1.6}, {"s": "M2", "g": "M", "e": "Eu", "v": 2.3}, {"s": "M2", "g": "M", "e": "Gd", "v": 1.2}, {"s": "M2", "g": "M", "e": "Dy", "v": 0.51}, {"s": "M2", "g": "M", "e": "Y", "v": 0.55}, {"s": "M2", "g": "M", "e": "Er", "v": 0.5}, {"s": "M2", "g": "M", "e": "Yb", "v": 0.7}, {"s": "M2", "g": "M", "e": "Lu", "v": 0.86},
      {"s": "M3", "g": "M", "e": "La", "v": 1.4}, {"s": "M3", "g": "M", "e": "Ce", "v": 1.95}, {"s": "M3", "g": "M", "e": "Nd", "v": 1.75}, {"s": "M3", "g": "M", "e": "Sm", "v": 1.5}, {"s": "M3", "g": "M", "e": "Eu", "v": 1.3}, {"s": "M3", "g": "M", "e": "Gd", "v": 0.65}, {"s": "M3", "g": "M", "e": "Dy", "v": 0.42}, {"s": "M3", "g": "M", "e": "Y", "v": 0.52}, {"s": "M3", "g": "M", "e": "Er", "v": 0.83}, {"s": "M3", "g": "M", "e": "Yb", "v": 0.68}, {"s": "M3", "g": "M", "e": "Lu", "v": 0.65},
      {"s": "N1", "g": "G", "e": "La", "v": 0.69}, {"s": "N1", "g": "G", "e": "Ce", "v": 0.55}, {"s": "N1", "g": "G", "e": "Nd", "v": 0.55}, {"s": "N1", "g": "G", "e": "Sm", "v": 1.27}, {"s": "N1", "g": "G", "e": "Eu", "v": 1.35}, {"s": "N1", "g": "G", "e": "Gd", "v": 1.44}, {"s": "N1", "g": "G", "e": "Dy", "v": 1.0}, {"s": "N1", "g": "G", "e": "Y", "v": 1.2}, {"s": "N1", "g": "G", "e": "Er", "v": 0.95}, {"s": "N1", "g": "G", "e": "Yb", "v": 1.96}, {"s": "N1", "g": "G", "e": "Lu", "v": 1.8},
      {"s": "N2", "g": "G", "e": "La", "v": 0.23}, {"s": "N2", "g": "G", "e": "Ce", "v": 0.28}, {"s": "N2", "g": "G", "e": "Nd", "v": 0.75}, {"s": "N2", "g": "G", "e": "Sm", "v": 2.3}, {"s": "N2", "g": "G", "e": "Eu", "v": 1.8}, {"s": "N2", "g": "G", "e": "Gd", "v": 2.3}, {"s": "N2", "g": "G", "e": "Dy", "v": 1.66}, {"s": "N2", "g": "G", "e": "Y", "v": 2.08}, {"s": "N2", "g": "G", "e": "Er", "v": 2.05}, {"s": "N2", "g": "G", "e": "Yb", "v": 2.4}, {"s": "N2", "g": "G", "e": "Lu", "v": 0.76},
      {"s": "N3", "g": "G", "e": "La", "v": 0.5}, {"s": "N3", "g": "G", "e": "Ce", "v": 0.6}, {"s": "N3", "g": "G", "e": "Nd", "v": 0.9}, {"s": "N3", "g": "G", "e": "Sm", "v": 1.2}, {"s": "N3", "g": "G", "e": "Eu", "v": 1.3}, {"s": "N3", "g": "G", "e": "Gd", "v": 1.5}, {"s": "N3", "g": "G", "e": "Dy", "v": 1.2}, {"s": "N3", "g": "G", "e": "Y", "v": 1.75}, {"s": "N3", "g": "G", "e": "Er", "v": 1.0}, {"s": "N3", "g": "G", "e": "Yb", "v": 1.45}, {"s": "N3", "g": "G", "e": "Lu", "v": 1.4},
      {"s": "K1", "g": "J", "e": "La", "v": 1.0}, {"s": "K1", "g": "J", "e": "Ce", "v": 0.95}, {"s": "K1", "g": "J", "e": "Nd", "v": 0.5}, {"s": "K1", "g": "J", "e": "Sm", "v": 0.45}, {"s": "K1", "g": "J", "e": "Eu", "v": 1.53}, {"s": "K1", "g": "J", "e": "Gd", "v": 0.32}, {"s": "K1", "g": "J", "e": "Dy", "v": 0.22}, {"s": "K1", "g": "J", "e": "Y", "v": 0.37}, {"s": "K1", "g": "J", "e": "Er", "v": 0.1}, {"s": "K1", "g": "J", "e": "Yb", "v": 0.12}, {"s": "K1", "g": "J", "e": "Lu", "v": 0.039},
      {"s": "K2", "g": "J", "e": "La", "v": 0.69}, {"s": "K2", "g": "J", "e": "Ce", "v": 0.7}, {"s": "K2", "g": "J", "e": "Nd", "v": 0.45}, {"s": "K2", "g": "J", "e": "Sm", "v": 0.44}, {"s": "K2", "g": "J", "e": "Eu", "v": 1.45}, {"s": "K2", "g": "J", "e": "Gd", "v": 0.3}, {"s": "K2", "g": "J", "e": "Dy", "v": 0.27}, {"s": "K2", "g": "J", "e": "Y", "v": 0.32}, {"s": "K2", "g": "J", "e": "Er", "v": 0.28}, {"s": "K2", "g": "J", "e": "Yb", "v": 0.65}, {"s": "K2", "g": "J", "e": "Lu", "v": 0.71},
      {"s": "K3", "g": "J", "e": "La", "v": 0.38}, {"s": "K3", "g": "J", "e": "Ce", "v": 0.4}, {"s": "K3", "g": "J", "e": "Nd", "v": 0.28}, {"s": "K3", "g": "J", "e": "Sm", "v": 0.1}, {"s": "K3", "g": "J", "e": "Eu", "v": 0.12}, {"s": "K3", "g": "J", "e": "Gd", "v": 0.11}, {"s": "K3", "g": "J", "e": "Dy", "v": 0.087}, {"s": "K3", "g": "J", "e": "Y", "v": 0.4}, {"s": "K3", "g": "J", "e": "Er", "v": 0.3}, {"s": "K3", "g": "J", "e": "Yb", "v": 0.42}, {"s": "K3", "g": "J", "e": "Lu", "v": 0.42},
      {"s": "RB", "g": "R", "e": "La", "v": 0.0086}, {"s": "RB", "g": "R", "e": "Ce", "v": 0.0017}, {"s": "RB", "g": "R", "e": "Nd", "v": 0.011}, {"s": "RB", "g": "R", "e": "Sm", "v": 0.013}, {"s": "RB", "g": "R", "e": "Eu", "v": 0.0178}, {"s": "RB", "g": "R", "e": "Gd", "v": 0.0256}, {"s": "RB", "g": "R", "e": "Dy", "v": 0.016}, {"s": "RB", "g": "R", "e": "Y", "v": 0.0014}, {"s": "RB", "g": "R", "e": "Er", "v": 0.0123}, {"s": "RB", "g": "R", "e": "Yb", "v": 0.024}, {"s": "RB", "g": "R", "e": "Lu", "v": 0.039}
    ]
  },
  "resolve": {
    "scale": {"fill": "independent", "stroke": "independent", "shape": "independent", "strokeDash": "independent"},
    "legend": {"fill": "independent", "stroke": "independent", "shape": "independent", "strokeDash": "independent"}
  },
  "bounds": "flush",
  "spacing": 94,
  "hconcat": [
    {
      "width": 619,
      "height": 388,
      "title": {"text": "A", "anchor": "start", "frame": "group", "offset": -69, "dx": 16, "font": "Liberation Serif", "fontSize": 26, "fontWeight": "bold", "color": "#1a1a1a", "baseline": "alphabetic"},
      "layer": [
        {
          "data": {"name": "bandA"},
          "mark": {"type": "area", "color": "#bcd8bd", "opacity": 1},
          "encoding": {
            "x": {"field": "e", "type": "ordinal", "sort": ["Rb","Sr","Y","Zr","Nb","Sn","Ba","La","Ce","Pr","Nd","Sm","Eu","Gd","Er","Yb","Lu","Hf","Ta","W","U"], "scale": {"type": "point", "domain": ["Rb","Sr","Y","Zr","Nb","Sn","Ba","La","Ce","Pr","Nd","Sm","Eu","Gd","Er","Yb","Lu","Hf","Ta","W","U"], "range": [15, 615], "padding": 0}, "axis": {"title": null, "labelAngle": 0, "labelPadding": 5}},
            "y": {"field": "hi", "type": "quantitative", "scale": {"type": "log", "domain": [0.001, 10000], "nice": false}, "axis": {"title": "SAMPLE/PRIMITIVE MANTLE", "values": [0.001, 0.01, 0.1, 1, 10, 100, 1000, 10000], "format": "~g"}},
            "y2": {"field": "lo"}
          }
        },
        {
          "data": {"name": "gridA"},
          "mark": {"type": "rule", "color": "#6d6d6d", "strokeWidth": 2},
          "encoding": {"y": {"field": "v", "type": "quantitative", "scale": {"type": "log", "domain": [0.001, 10000], "nice": false}}}
        },
        {
          "data": {"name": "a"},
          "transform": [{"filter": "datum.g === 'R'"}],
          "mark": {"type": "line", "color": "#9a9a9a", "strokeWidth": 1.3, "strokeDash": [16, 9], "clip": true},
          "encoding": {
            "x": {"field": "e", "type": "ordinal", "sort": ["Rb","Sr","Y","Zr","Nb","Sn","Ba","La","Ce","Pr","Nd","Sm","Eu","Gd","Er","Yb","Lu","Hf","Ta","W","U"]},
            "y": {"field": "v", "type": "quantitative", "scale": {"type": "log", "domain": [0.001, 10000], "nice": false}},
            "detail": {"field": "s"}
          }
        },
        {
          "data": {"name": "a"},
          "transform": [{"filter": "datum.g === 'J'"}],
          "mark": {"type": "line", "color": "#1a1a1a", "strokeWidth": 1.2, "strokeDash": [2.5, 2]},
          "encoding": {
            "x": {"field": "e", "type": "ordinal", "sort": ["Rb","Sr","Y","Zr","Nb","Sn","Ba","La","Ce","Pr","Nd","Sm","Eu","Gd","Er","Yb","Lu","Hf","Ta","W","U"]},
            "y": {"field": "v", "type": "quantitative", "scale": {"type": "log", "domain": [0.001, 10000], "nice": false}},
            "detail": {"field": "s"}
          }
        },
        {
          "data": {"name": "a"},
          "transform": [{"filter": "datum.g === 'G'"}],
          "mark": {"type": "line", "color": "#2d2f85", "strokeWidth": 1.3},
          "encoding": {
            "x": {"field": "e", "type": "ordinal", "sort": ["Rb","Sr","Y","Zr","Nb","Sn","Ba","La","Ce","Pr","Nd","Sm","Eu","Gd","Er","Yb","Lu","Hf","Ta","W","U"]},
            "y": {"field": "v", "type": "quantitative", "scale": {"type": "log", "domain": [0.001, 10000], "nice": false}},
            "detail": {"field": "s"}
          }
        },
        {
          "data": {"name": "a"},
          "transform": [{"filter": "datum.g === 'P'"}],
          "mark": {"type": "line", "color": "#2aa4e2", "strokeWidth": 1.4},
          "encoding": {
            "x": {"field": "e", "type": "ordinal", "sort": ["Rb","Sr","Y","Zr","Nb","Sn","Ba","La","Ce","Pr","Nd","Sm","Eu","Gd","Er","Yb","Lu","Hf","Ta","W","U"]},
            "y": {"field": "v", "type": "quantitative", "scale": {"type": "log", "domain": [0.001, 10000], "nice": false}},
            "detail": {"field": "s"}
          }
        },
        {
          "data": {"name": "a"},
          "transform": [{"filter": "datum.g === 'L'"}],
          "mark": {"type": "line", "color": "#c42330", "strokeWidth": 1.5},
          "encoding": {
            "x": {"field": "e", "type": "ordinal", "sort": ["Rb","Sr","Y","Zr","Nb","Sn","Ba","La","Ce","Pr","Nd","Sm","Eu","Gd","Er","Yb","Lu","Hf","Ta","W","U"]},
            "y": {"field": "v", "type": "quantitative", "scale": {"type": "log", "domain": [0.001, 10000], "nice": false}},
            "detail": {"field": "s"}
          }
        },
        {
          "data": {"name": "a"},
          "transform": [{"filter": "datum.g === 'L'"}],
          "mark": {"type": "point", "filled": true, "fill": "#c42330", "stroke": "white", "strokeWidth": 1.2, "size": 115, "opacity": 1},
          "encoding": {
            "x": {"field": "e", "type": "ordinal", "sort": ["Rb","Sr","Y","Zr","Nb","Sn","Ba","La","Ce","Pr","Nd","Sm","Eu","Gd","Er","Yb","Lu","Hf","Ta","W","U"]},
            "y": {"field": "v", "type": "quantitative", "scale": {"type": "log", "domain": [0.001, 10000], "nice": false}}
          }
        },
        {
          "data": {"name": "legA"},
          "mark": {"type": "point", "opacity": 1},
          "encoding": {
            "x": {"field": "e", "type": "ordinal", "sort": ["Rb","Sr","Y","Zr","Nb","Sn","Ba","La","Ce","Pr","Nd","Sm","Eu","Gd","Er","Yb","Lu","Hf","Ta","W","U"]},
            "y": {"field": "v", "type": "quantitative", "scale": {"type": "log", "domain": [0.001, 10000], "nice": false}},
            "fill": {"field": "g", "type": "nominal", "scale": {"domain": ["Levoketchpel jadeite", "Pusyerka jadeite", "Compositional range for Burmese jadeite", "Guatemalan jadeite", "Japanese jadeite"], "range": ["#c42330", "#2aa4e2", "#bcd8bd", "#2d2f85", "#1a1a1a"]}, "legend": {"title": null, "orient": "none", "legendX": 329, "legendY": 9, "fillColor": "white", "padding": 2, "symbolSize": 400, "symbolStrokeWidth": 1.5, "labelFont": "Roboto Condensed, Liberation Sans", "labelFontSize": 15, "labelColor": "#333333", "labelOffset": 11, "rowPadding": 4, "labelLimit": 400}},
            "stroke": {"field": "g", "type": "nominal", "scale": {"domain": ["Levoketchpel jadeite", "Pusyerka jadeite", "Compositional range for Burmese jadeite", "Guatemalan jadeite", "Japanese jadeite"], "range": ["#c42330", "#2aa4e2", "#bcd8bd", "#2d2f85", "#1a1a1a"]}, "legend": {"title": null, "orient": "none", "legendX": 329, "legendY": 9, "fillColor": "white", "padding": 2, "symbolSize": 400, "symbolStrokeWidth": 1.5, "labelFont": "Roboto Condensed, Liberation Sans", "labelFontSize": 15, "labelColor": "#333333", "labelOffset": 11, "rowPadding": 4, "labelLimit": 400}},
            "shape": {"field": "g", "type": "nominal", "scale": {"domain": ["Levoketchpel jadeite", "Pusyerka jadeite", "Compositional range for Burmese jadeite", "Guatemalan jadeite", "Japanese jadeite"], "range": ["M-1.3,0H1.3M0.45,0A0.45,0.45,0,1,1,-0.45,0A0.45,0.45,0,1,1,0.45,0Z", "M-1.3,0H1.3", "M-1.3,-0.45H1.3V0.45H-1.3Z", "M-1.3,0H1.3", "M-1.3,0H1.3"]}, "legend": {"title": null, "orient": "none", "legendX": 329, "legendY": 9, "fillColor": "white", "padding": 2, "symbolSize": 400, "symbolStrokeWidth": 1.5, "labelFont": "Roboto Condensed, Liberation Sans", "labelFontSize": 15, "labelColor": "#333333", "labelOffset": 11, "rowPadding": 4, "labelLimit": 400}},
            "strokeDash": {"field": "g", "type": "nominal", "scale": {"domain": ["Levoketchpel jadeite", "Pusyerka jadeite", "Compositional range for Burmese jadeite", "Guatemalan jadeite", "Japanese jadeite"], "range": [[1, 0], [1, 0], [1, 0], [1, 0], [2, 2]]}, "legend": {"title": null, "orient": "none", "legendX": 329, "legendY": 9, "fillColor": "white", "padding": 2, "symbolSize": 400, "symbolStrokeWidth": 1.5, "labelFont": "Roboto Condensed, Liberation Sans", "labelFontSize": 15, "labelColor": "#333333", "labelOffset": 11, "rowPadding": 4, "labelLimit": 400}}
          }
        }
      ]
    },
    {
      "width": 415,
      "height": 388,
      "title": {"text": "B", "anchor": "start", "frame": "group", "offset": -63, "dx": 13, "font": "Liberation Serif", "fontSize": 26, "fontWeight": "bold", "color": "#1a1a1a", "baseline": "alphabetic"},
      "layer": [
        {
          "data": {"name": "gridB"},
          "mark": {"type": "rule", "color": "#6d6d6d", "strokeWidth": 2},
          "encoding": {"y": {"field": "v", "type": "quantitative", "scale": {"type": "log", "domain": [0.001, 136], "nice": false}, "axis": {"title": "SAMPLE/CHONDRITE", "values": [0.001, 0.01, 0.1, 1, 10, 100], "format": "~g"}}}
        },
        {
          "data": {"name": "b"},
          "transform": [{"filter": "datum.g === 'R'"}],
          "mark": {"type": "line", "color": "#9a9a9a", "strokeWidth": 1.3, "strokeDash": [16, 9]},
          "encoding": {
            "x": {"field": "e", "type": "ordinal", "sort": ["La","Ce","Nd","Sm","Eu","Gd","Dy","Y","Er","Yb","Lu"], "scale": {"type": "point", "domain": ["La","Ce","Nd","Sm","Eu","Gd","Dy","Y","Er","Yb","Lu"], "range": [20, 414], "padding": 0}, "axis": {"title": null, "labelAngle": 0, "labelPadding": 5}},
            "y": {"field": "v", "type": "quantitative", "scale": {"type": "log", "domain": [0.001, 136], "nice": false}},
            "detail": {"field": "s"}
          }
        },
        {
          "data": {"name": "b"},
          "transform": [{"filter": "datum.g === 'J'"}],
          "mark": {"type": "line", "color": "#1a1a1a", "strokeWidth": 1.2, "strokeDash": [2.5, 2]},
          "encoding": {
            "x": {"field": "e", "type": "ordinal", "sort": ["La","Ce","Nd","Sm","Eu","Gd","Dy","Y","Er","Yb","Lu"]},
            "y": {"field": "v", "type": "quantitative", "scale": {"type": "log", "domain": [0.001, 136], "nice": false}},
            "detail": {"field": "s"}
          }
        },
        {
          "data": {"name": "b"},
          "transform": [{"filter": "datum.g === 'M'"}],
          "mark": {"type": "line", "color": "#3f9b4f", "strokeWidth": 1.3},
          "encoding": {
            "x": {"field": "e", "type": "ordinal", "sort": ["La","Ce","Nd","Sm","Eu","Gd","Dy","Y","Er","Yb","Lu"]},
            "y": {"field": "v", "type": "quantitative", "scale": {"type": "log", "domain": [0.001, 136], "nice": false}},
            "detail": {"field": "s"}
          }
        },
        {
          "data": {"name": "b"},
          "transform": [{"filter": "datum.g === 'G'"}],
          "mark": {"type": "line", "color": "#2d2f85", "strokeWidth": 1.3},
          "encoding": {
            "x": {"field": "e", "type": "ordinal", "sort": ["La","Ce","Nd","Sm","Eu","Gd","Dy","Y","Er","Yb","Lu"]},
            "y": {"field": "v", "type": "quantitative", "scale": {"type": "log", "domain": [0.001, 136], "nice": false}},
            "detail": {"field": "s"}
          }
        },
        {
          "data": {"name": "b"},
          "transform": [{"filter": "datum.g === 'P'"}],
          "mark": {"type": "line", "color": "#2aa4e2", "strokeWidth": 1.4},
          "encoding": {
            "x": {"field": "e", "type": "ordinal", "sort": ["La","Ce","Nd","Sm","Eu","Gd","Dy","Y","Er","Yb","Lu"]},
            "y": {"field": "v", "type": "quantitative", "scale": {"type": "log", "domain": [0.001, 136], "nice": false}},
            "detail": {"field": "s"}
          }
        },
        {
          "data": {"name": "b"},
          "transform": [{"filter": "datum.g === 'L'"}],
          "mark": {"type": "line", "color": "#c42330", "strokeWidth": 1.5},
          "encoding": {
            "x": {"field": "e", "type": "ordinal", "sort": ["La","Ce","Nd","Sm","Eu","Gd","Dy","Y","Er","Yb","Lu"]},
            "y": {"field": "v", "type": "quantitative", "scale": {"type": "log", "domain": [0.001, 136], "nice": false}},
            "detail": {"field": "s"}
          }
        },
        {
          "data": {"name": "b"},
          "transform": [{"filter": "datum.g === 'L'"}],
          "mark": {"type": "point", "filled": true, "fill": "#c42330", "stroke": "white", "strokeWidth": 1.2, "size": 130, "opacity": 1},
          "encoding": {
            "x": {"field": "e", "type": "ordinal", "sort": ["La","Ce","Nd","Sm","Eu","Gd","Dy","Y","Er","Yb","Lu"]},
            "y": {"field": "v", "type": "quantitative", "scale": {"type": "log", "domain": [0.001, 136], "nice": false}}
          }
        },
        {
          "data": {"name": "legB"},
          "mark": {"type": "point", "opacity": 1},
          "encoding": {
            "x": {"field": "e", "type": "ordinal", "sort": ["La","Ce","Nd","Sm","Eu","Gd","Dy","Y","Er","Yb","Lu"]},
            "y": {"field": "v", "type": "quantitative", "scale": {"type": "log", "domain": [0.001, 136], "nice": false}},
            "fill": {"field": "g", "type": "nominal", "scale": {"domain": ["Levoketchpel jadeite", "Pusyerka jadeite", "Burmese jadeite", "Guatemalan jadeite", "Japanese jadeite"], "range": ["#c42330", "#2aa4e2", "#3f9b4f", "#2d2f85", "#1a1a1a"]}, "legend": {"title": null, "orient": "none", "legendX": 239, "legendY": 12, "fillColor": "white", "padding": 2, "symbolSize": 400, "symbolStrokeWidth": 1.5, "labelFont": "Roboto Condensed, Liberation Sans", "labelFontSize": 15, "labelColor": "#333333", "labelOffset": 11, "rowPadding": 4, "labelLimit": 400}},
            "stroke": {"field": "g", "type": "nominal", "scale": {"domain": ["Levoketchpel jadeite", "Pusyerka jadeite", "Burmese jadeite", "Guatemalan jadeite", "Japanese jadeite"], "range": ["#c42330", "#2aa4e2", "#3f9b4f", "#2d2f85", "#1a1a1a"]}, "legend": {"title": null, "orient": "none", "legendX": 239, "legendY": 12, "fillColor": "white", "padding": 2, "symbolSize": 400, "symbolStrokeWidth": 1.5, "labelFont": "Roboto Condensed, Liberation Sans", "labelFontSize": 15, "labelColor": "#333333", "labelOffset": 11, "rowPadding": 4, "labelLimit": 400}},
            "shape": {"field": "g", "type": "nominal", "scale": {"domain": ["Levoketchpel jadeite", "Pusyerka jadeite", "Burmese jadeite", "Guatemalan jadeite", "Japanese jadeite"], "range": ["M-1.3,0H1.3M0.45,0A0.45,0.45,0,1,1,-0.45,0A0.45,0.45,0,1,1,0.45,0Z", "M-1.3,0H1.3", "M-1.3,0H1.3", "M-1.3,0H1.3", "M-1.3,0H1.3"]}, "legend": {"title": null, "orient": "none", "legendX": 239, "legendY": 12, "fillColor": "white", "padding": 2, "symbolSize": 400, "symbolStrokeWidth": 1.5, "labelFont": "Roboto Condensed, Liberation Sans", "labelFontSize": 15, "labelColor": "#333333", "labelOffset": 11, "rowPadding": 4, "labelLimit": 400}},
            "strokeDash": {"field": "g", "type": "nominal", "scale": {"domain": ["Levoketchpel jadeite", "Pusyerka jadeite", "Burmese jadeite", "Guatemalan jadeite", "Japanese jadeite"], "range": [[1, 0], [1, 0], [1, 0], [1, 0], [2, 2]]}, "legend": {"title": null, "orient": "none", "legendX": 239, "legendY": 12, "fillColor": "white", "padding": 2, "symbolSize": 400, "symbolStrokeWidth": 1.5, "labelFont": "Roboto Condensed, Liberation Sans", "labelFontSize": 15, "labelColor": "#333333", "labelOffset": 11, "rowPadding": 4, "labelLimit": 400}}
          }
        }
      ]
    }
  ]
}
